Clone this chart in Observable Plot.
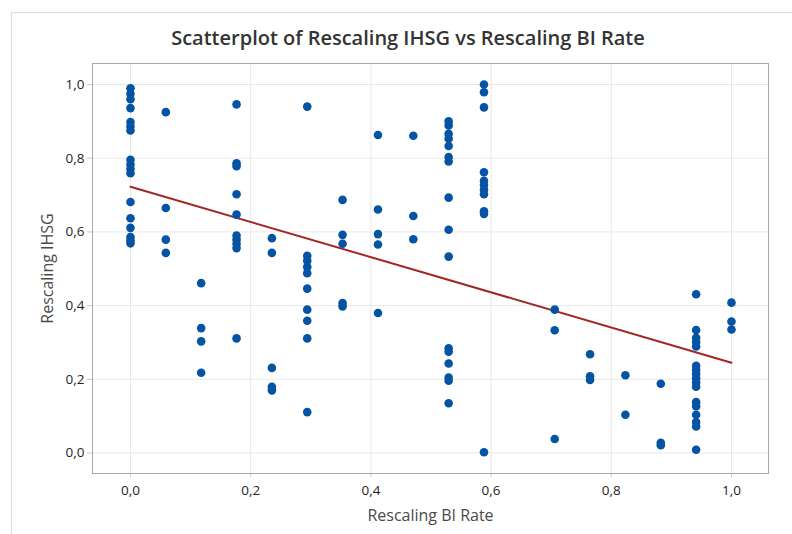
<!DOCTYPE html>
<html>
<head>
<meta charset="utf-8">
<script src="https://cdn.jsdelivr.net/npm/d3@7"></script>
<script src="https://cdn.jsdelivr.net/npm/@observablehq/plot@0.6"></script>
<style>
  html, body { margin: 0; padding: 0; background: #fff; }
  #wrap { position: relative; width: 792px; height: 534px; overflow: hidden; font-family: "Open Sans", "Noto Sans", sans-serif; }
  #border { position: absolute; left: 11px; top: 12px; width: 900px; height: 700px; border-left: 1px solid #dcdcdc; border-top: 1px solid #dcdcdc; }
  #title { position: absolute; left: 0; width: 816px; top: 24px; text-align: center; font-size: 20px; font-weight: 600; color: #333; white-space: nowrap; line-height: 28px; }
  #chart { position: absolute; left: 0; top: 0; }
</style>
</head>
<body>
<div id="wrap">
  <div id="border"></div>
  <div id="title">Scatterplot of Rescaling IHSG vs Rescaling BI Rate</div>
  <div id="chart"></div>
</div>
<script>
// Rescaling BI Rate levels (x) and the Rescaling IHSG values observed at each level (y)
const biRateLevels = [0, 0.0588, 0.1176, 0.1765, 0.2353, 0.2941, 0.3529, 0.4118, 0.4706, 0.5294, 0.5882, 0.7059, 0.7647, 0.8235, 0.8824, 0.9412, 1.0];
const ihsgByLevel = [
  [0.990, 0.975, 0.960, 0.936, 0.898, 0.886, 0.875, 0.796, 0.783, 0.771, 0.759, 0.681, 0.637, 0.611, 0.586, 0.577, 0.569],
  [0.925, 0.665, 0.579, 0.543],
  [0.461, 0.339, 0.303, 0.218],
  [0.946, 0.786, 0.778, 0.702, 0.647, 0.590, 0.579, 0.568, 0.556, 0.311],
  [0.583, 0.543, 0.231, 0.180, 0.170],
  [0.940, 0.535, 0.522, 0.505, 0.488, 0.446, 0.389, 0.359, 0.311, 0.111],
  [0.687, 0.592, 0.568, 0.407, 0.398],
  [0.863, 0.661, 0.594, 0.566, 0.380],
  [0.861, 0.643, 0.580],
  [0.900, 0.889, 0.866, 0.853, 0.833, 0.803, 0.791, 0.693, 0.606, 0.533, 0.284, 0.275, 0.243, 0.205, 0.196, 0.135],
  [1.000, 0.979, 0.938, 0.762, 0.739, 0.727, 0.714, 0.702, 0.656, 0.649, 0.002],
  [0.389, 0.333, 0.038],
  [0.268, 0.208, 0.198],
  [0.211, 0.104],
  [0.188, 0.028, 0.021],
  [0.431, 0.334, 0.313, 0.301, 0.289, 0.237, 0.226, 0.215, 0.203, 0.191, 0.180, 0.138, 0.127, 0.104, 0.084, 0.072, 0.009],
  [0.408, 0.357, 0.335]
];
const tickValues = [0, 0.2, 0.4, 0.6, 0.8, 1.0];
const xTitle = "Rescaling BI Rate";
const yTitle = "Rescaling IHSG";

const data = [];
biRateLevels.forEach((x, i) => ihsgByLevel[i].forEach(y => data.push({x, y})));

const fmt = d => d3.format(".1f")(d).replace(".", ",");

const chart = Plot.plot({
  width: 792,
  height: 534,
  marginLeft: 92,
  marginRight: 24,
  marginTop: 63,
  marginBottom: 61,
  style: {fontFamily: "'Open Sans', 'Noto Sans', sans-serif", background: "transparent"},
  x: {domain: [-0.0632, 1.0616]},
  y: {domain: [-0.0556, 1.057]},
  marks: [
    Plot.gridX(tickValues, {stroke: "#e9e9e9", strokeOpacity: 1}),
    Plot.gridY(tickValues, {stroke: "#e9e9e9", strokeOpacity: 1}),
    Plot.axisX(tickValues, {tickFormat: fmt, tickSize: 4, tickPadding: 8, fontSize: 13.5, stroke: "#c8c8c8", fill: "#1e1e1e", label: null}),
    Plot.axisY(tickValues, {tickFormat: fmt, tickSize: 5, tickPadding: 3, fontSize: 13.5, stroke: "#c8c8c8", fill: "#1e1e1e", label: null}),
    Plot.frame({stroke: "#a8a8a8"}),
    Plot.text([xTitle], {frameAnchor: "bottom", dy: 42, textAnchor: "middle", lineAnchor: "middle", fontSize: 16, fill: "#4a4a4a"}),
    Plot.text([yTitle], {frameAnchor: "left", dx: -45, rotate: -90, textAnchor: "middle", lineAnchor: "middle", fontSize: 16, fill: "#4a4a4a"}),
    Plot.linearRegressionY(data, {x: "x", y: "y", ci: 0, stroke: "#a32626", strokeWidth: 2}),
    Plot.dot(data, {x: "x", y: "y", r: 4.3, fill: "#0553a3", stroke: "none"})
  ]
});
document.getElementById("chart").appendChild(chart);
</script>
</body>
</html>
